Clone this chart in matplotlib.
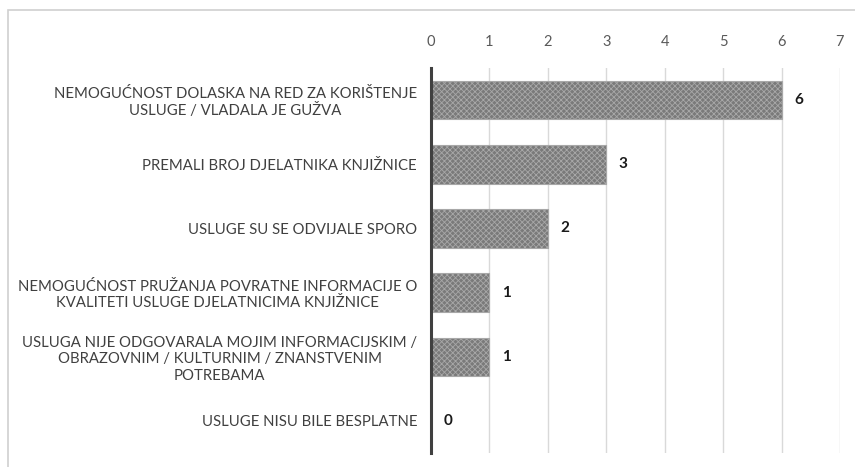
import matplotlib.pyplot as plt
from matplotlib.patches import Rectangle

plt.rcParams["font.family"] = ["Lato", "DejaVu Sans"]
plt.rcParams["hatch.linewidth"] = 0.6

categories = [
    "NEMOGUĆNOST DOLASKA NA RED ZA KORIŠTENJE\nUSLUGE / VLADALA JE GUŽVA",
    "PREMALI BROJ DJELATNIKA KNJIŽNICE",
    "USLUGE SU SE ODVIJALE SPORO",
    "NEMOGUĆNOST PRUŽANJA POVRATNE INFORMACIJE O\nKVALITETI USLUGE DJELATNICIMA KNJIŽNICE",
    "USLUGA NIJE ODGOVARALA MOJIM INFORMACIJSKIM /\nOBRAZOVNIM / KULTURNIM / ZNANSTVENIM\nPOTREBAMA",
    "USLUGE NISU BILE BESPLATNE",
]
counts = [6, 3, 2, 1, 1, 0]
x_ticks = [0, 1, 2, 3, 4, 5, 6, 7]

W, H = 855, 467
fig = plt.figure(figsize=(W / 100, H / 100), dpi=100)
ax = fig.add_axes([431 / W, 1 - 453 / H, (840 - 431) / W, (453 - 68) / H])

y = list(range(len(categories)))
ax.barh(y, counts, height=0.6, color="#7a7a7a", edgecolor="#a8a8a8",
        hatch="xxxxxx", linewidth=0.8, zorder=3)

for yi, v in zip(y, counts):
    ax.annotate(str(v), (v, yi), xytext=(9, 0), textcoords="offset points",
                ha="left", va="center", fontsize=11, fontweight="bold", color="#1a1a1a")

ax.set_xlim(0, 7)
ax.set_ylim(len(categories) - 0.5, -0.5)
ax.set_xticks(x_ticks)
ax.set_yticks(y)
ax.set_yticklabels(categories, multialignment="center", linespacing=1.2)
ax.xaxis.tick_top()
ax.tick_params(axis="x", length=0, pad=14, labelsize=10.5, labelcolor="#595959")
ax.tick_params(axis="y", length=0, pad=10, labelsize=10.7, labelcolor="#404040")
ax.grid(axis="x", color="#d9d9d9", linewidth=1, zorder=0)
for s in ["top", "right", "bottom"]:
    ax.spines[s].set_visible(False)
ax.spines["left"].set_color("#404040")
ax.spines["left"].set_linewidth(2.2)
ax.spines["left"].set_zorder(4)

fig.patches.append(Rectangle((8 / W, -0.05), 1.1, 1 - 10 / H + 0.05,
                             transform=fig.transFigure, fill=False,
                             edgecolor="#d0d0d0", linewidth=1.2))

fig.savefig("out.png", dpi=100)
